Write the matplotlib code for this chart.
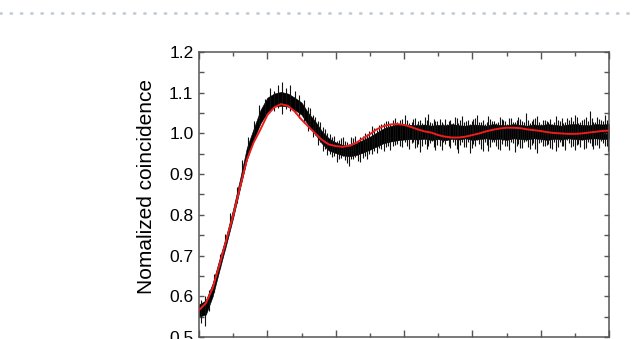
import numpy as np
import matplotlib
matplotlib.use('Agg')
from matplotlib import pyplot as plt
from matplotlib.lines import Line2D
import matplotlib.ticker as ticker

plt.rcParams['font.family'] = ['Liberation Sans', 'DejaVu Sans']

# sample positions (arbitrary delay units, x tick labels are cut off in the picture)
xs = np.linspace(0, 6, 61)

# red fit curve read at xs
fit = [0.566, 0.583, 0.620, 0.677, 0.738, 0.798, 0.868, 0.935, 0.978, 1.010,
       1.045, 1.064, 1.072, 1.068, 1.054, 1.034, 1.017, 1.000, 0.984, 0.973,
       0.969, 0.967, 0.970, 0.977, 0.988, 0.998, 1.010, 1.018, 1.022, 1.023,
       1.021, 1.016, 1.010, 1.005, 1.002, 0.996, 0.992, 0.990, 0.990, 0.992,
       0.996, 1.000, 1.005, 1.009, 1.012, 1.014, 1.014, 1.013, 1.010, 1.008,
       1.006, 1.003, 1.001, 1.000, 0.999, 0.999, 1.000, 1.002, 1.004, 1.006,
       1.007]

# black measured trace: core band (lower / upper) read at xs
band_lo = [0.550, 0.555, 0.600, 0.665, 0.728, 0.793, 0.865, 0.935, 0.985, 1.025,
           1.052, 1.066, 1.068, 1.066, 1.058, 1.046, 1.020, 0.998, 0.975, 0.958,
           0.952, 0.946, 0.944, 0.947, 0.953, 0.960, 0.968, 0.976, 0.980, 0.983,
           0.985, 0.986, 0.985, 0.987, 0.984, 0.986, 0.983, 0.987, 0.985, 0.988,
           0.984, 0.986, 0.988, 0.985, 0.987, 0.984, 0.988, 0.986, 0.985, 0.988,
           0.986, 0.984, 0.987, 0.985, 0.988, 0.986, 0.985, 0.987, 0.988, 0.986,
           0.987]
band_hi = [0.580, 0.590, 0.632, 0.692, 0.750, 0.815, 0.888, 0.965, 1.012, 1.058,
           1.088, 1.098, 1.102, 1.098, 1.088, 1.076, 1.050, 1.030, 1.005, 0.988,
           0.978, 0.972, 0.968, 0.976, 0.984, 0.992, 1.002, 1.012, 1.018, 1.022,
           1.022, 1.021, 1.020, 1.022, 1.019, 1.021, 1.020, 1.023, 1.020, 1.019,
           1.022, 1.021, 1.019, 1.023, 1.021, 1.020, 1.023, 1.021, 1.019, 1.022,
           1.020, 1.023, 1.021, 1.019, 1.022, 1.023, 1.021, 1.020, 1.023, 1.022,
           1.023]

# noise spikes of the black trace (x, bottom, top)
spike_x = [0.03, 0.09, 0.15, 0.22, 0.30, 0.38, 0.46, 0.55, 0.63, 0.72, 0.80, 0.88,
           0.96, 1.04, 1.10, 1.16, 1.21, 1.27, 1.33, 1.40, 1.46, 1.53, 1.60, 1.67,
           1.74, 1.81, 1.88, 1.95, 2.02, 2.08, 2.14, 2.20, 2.26, 2.33, 2.40, 2.46,
           2.53, 2.60, 2.67, 2.74, 2.80, 2.87, 2.94,
           3.02, 3.08, 3.13, 3.19, 3.24, 3.30, 3.35, 3.41, 3.46, 3.52, 3.57, 3.63,
           3.68, 3.74, 3.79, 3.85, 3.90, 3.96, 4.01, 4.07, 4.12, 4.18, 4.23, 4.29,
           4.34, 4.40, 4.45, 4.51, 4.56, 4.62, 4.67, 4.73, 4.78, 4.84, 4.89, 4.95,
           5.00, 5.06, 5.11, 5.17, 5.22, 5.28, 5.33, 5.39, 5.44, 5.50, 5.55, 5.61,
           5.66, 5.72, 5.77, 5.83, 5.88, 5.94, 5.99]
spike_lo = [0.535, 0.528, 0.565, 0.610, 0.670, 0.715, 0.770, 0.830, 0.895, 0.945,
            0.985, 1.020, 1.040, 1.058, 1.055, 1.062, 1.048, 1.060, 1.055, 1.050,
            1.038, 1.026, 1.006, 0.990, 0.972, 0.958, 0.948, 0.942, 0.930, 0.940,
            0.934, 0.920, 0.936, 0.932, 0.940, 0.938, 0.950, 0.952, 0.962, 0.966,
            0.960, 0.972, 0.968,
            0.978, 0.962, 0.980, 0.966, 0.955, 0.975, 0.968, 0.982, 0.960, 0.970,
            0.978, 0.985, 0.964, 0.972, 0.953, 0.980, 0.966, 0.952, 0.975, 0.983,
            0.962, 0.978, 0.956, 0.980, 0.970, 0.960, 0.984, 0.968, 0.978, 0.955,
            0.974, 0.965, 0.982, 0.962, 0.976, 0.953, 0.980, 0.968, 0.974, 0.962,
            0.958, 0.978, 0.970, 0.984, 0.966, 0.960, 0.975, 0.983, 0.964, 0.976,
            0.962, 0.972, 0.982, 0.968, 0.958]
spike_hi = [0.590, 0.600, 0.615, 0.655, 0.705, 0.752, 0.805, 0.868, 0.935, 0.990,
            1.030, 1.070, 1.085, 1.112, 1.104, 1.118, 1.127, 1.112, 1.118, 1.104,
            1.094, 1.082, 1.066, 1.046, 1.030, 1.015, 1.000, 0.990, 0.982, 0.988,
            0.982, 0.975, 0.988, 0.982, 0.994, 0.998, 1.018, 1.008, 1.024, 1.030,
            1.022, 1.038, 1.032,
            1.045, 1.025, 1.036, 1.022, 1.033, 1.040, 1.047, 1.026, 1.030, 1.036,
            1.024, 1.022, 1.033, 1.040, 1.026, 1.042, 1.030, 1.024, 1.036, 1.045,
            1.028, 1.024, 1.042, 1.030, 1.025, 1.040, 1.033, 1.024, 1.038, 1.027,
            1.040, 1.030, 1.050, 1.026, 1.036, 1.043, 1.024, 1.034, 1.028, 1.023,
            1.042, 1.030, 1.025, 1.038, 1.040, 1.046, 1.026, 1.034, 1.040, 1.055,
            1.028, 1.040, 1.032, 1.046, 1.026]

# extra, shorter noise strokes in between (x, bottom, top)
fine_x = [1.63, 1.70, 1.77, 1.84, 1.91, 1.98, 2.05, 2.11, 2.17, 2.23, 2.29, 2.36,
          2.43, 2.49, 2.56, 2.63, 2.70, 2.77, 2.84, 2.90, 2.97,
          3.05, 3.11, 3.16, 3.21, 3.27, 3.33, 3.38, 3.44, 3.49, 3.55, 3.60, 3.66,
          3.71, 3.77, 3.82, 3.88, 3.93, 3.99, 4.04, 4.10, 4.15, 4.21, 4.26, 4.32,
          4.37, 4.43, 4.48, 4.54, 4.59, 4.65, 4.70, 4.76, 4.81, 4.87, 4.92, 4.98,
          5.03, 5.09, 5.14, 5.20, 5.25, 5.31, 5.36, 5.42, 5.47, 5.53, 5.58, 5.64,
          5.69, 5.75, 5.80, 5.86, 5.91, 5.97]
fine_lo = [1.010, 0.996, 0.980, 0.962, 0.950, 0.945, 0.936, 0.945, 0.928, 0.938,
           0.942, 0.930, 0.945, 0.950, 0.958, 0.964, 0.958, 0.970, 0.968, 0.974,
           0.966,
           0.970, 0.976, 0.964, 0.974, 0.968, 0.962, 0.977, 0.966, 0.972, 0.960,
           0.975, 0.968, 0.980, 0.962, 0.972, 0.966, 0.978, 0.964, 0.970, 0.975,
           0.958, 0.972, 0.966, 0.978, 0.962, 0.974, 0.968, 0.960, 0.976, 0.970,
           0.964, 0.978, 0.966, 0.972, 0.962, 0.976, 0.968, 0.972, 0.964, 0.978,
           0.966, 0.970, 0.960, 0.976, 0.968, 0.972, 0.966, 0.962, 0.978, 0.968,
           0.972, 0.964, 0.976, 0.968]
fine_hi = [1.062, 1.040, 1.028, 1.012, 0.998, 0.994, 0.984, 0.990, 0.978, 0.990,
           0.994, 0.990, 1.000, 1.006, 1.014, 1.020, 1.026, 1.030, 1.034, 1.028,
           1.036,
           1.032, 1.028, 1.038, 1.030, 1.026, 1.034, 1.029, 1.036, 1.031, 1.027,
           1.035, 1.030, 1.026, 1.038, 1.032, 1.028, 1.034, 1.030, 1.037, 1.027,
           1.033, 1.029, 1.036, 1.031, 1.027, 1.035, 1.030, 1.038, 1.028, 1.032,
           1.036, 1.027, 1.033, 1.030, 1.038, 1.028, 1.034, 1.031, 1.036, 1.027,
           1.033, 1.037, 1.029, 1.034, 1.030, 1.040, 1.028, 1.035, 1.031, 1.037,
           1.029, 1.036, 1.030, 1.034]

y_ticks = [0.5, 0.6, 0.7, 0.8, 0.9, 1.0, 1.1, 1.2]
y_label = 'Nomalized coincidence'

fig = plt.figure(figsize=(6.35, 3.39), dpi=100)
ax = fig.add_axes([199/635, 2/339, 410/635, 285/339])

# black data trace
ax.fill_between(xs, band_lo, band_hi, color='black', linewidth=0.4)
ax.vlines(spike_x, spike_lo, spike_hi, color='#111111', linewidth=0.8)
ax.vlines(fine_x, fine_lo, fine_hi, color='#111111', linewidth=0.8)
# red fit
ax.plot(xs, fit, color='#ee1c1c', linewidth=1.4, zorder=3)

ax.set_xlim(0, 6)
ax.set_ylim(0.5, 1.2)
ax.set_yticks(y_ticks)
ax.set_yticklabels(['%.1f' % v for v in y_ticks])
ax.yaxis.set_minor_locator(ticker.MultipleLocator(0.05))
ax.xaxis.set_major_locator(ticker.MultipleLocator(1))
ax.xaxis.set_minor_locator(ticker.MultipleLocator(0.5))

for s in ax.spines.values():
    s.set_color('#555555')
    s.set_linewidth(1.1)
ax.tick_params(which='both', direction='in', top=True, right=True,
               color='#555555', width=1.0, labelsize=12.5, pad=4,
               labelbottom=False)
ax.tick_params(axis='y', which='both', length=3.5)
ax.tick_params(axis='x', which='major', length=5)
ax.tick_params(axis='x', which='minor', length=3)

fig.text(146/635, 1 - 186.5/339, y_label, rotation=90, fontsize=15,
         ha='center', va='center')

# dotted separator line at the top of the page
fig.add_artist(Line2D([0, 1], [1 - 12.7/339, 1 - 12.7/339], transform=fig.transFigure,
                      color='#c3ccd5', linewidth=2.0, linestyle=(0, (0.4, 3.3)),
                      dash_capstyle='round'))

fig.savefig('out.png', dpi=100)
